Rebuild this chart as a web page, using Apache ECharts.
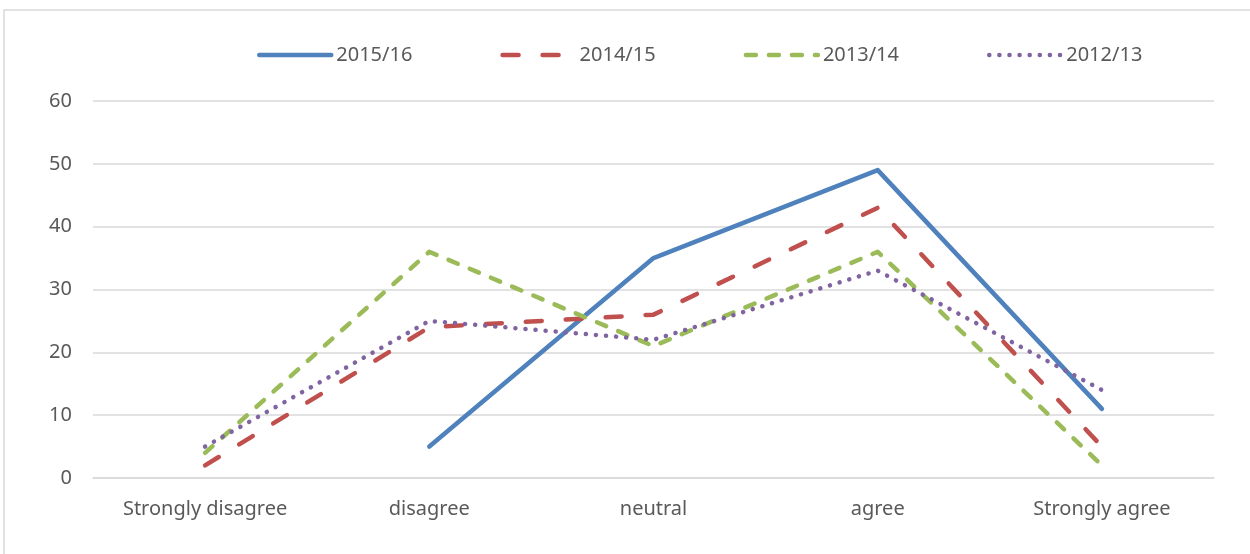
<!DOCTYPE html>
<html>
<head>
<meta charset="utf-8">
<script src="https://cdn.jsdelivr.net/npm/echarts@6/dist/echarts.min.js"></script>
<style>
  html, body { margin: 0; padding: 0; background: #fff; }
  #chart { width: 1250px; height: 554px; }
</style>
</head>
<body>
<div id="chart"></div>
<script>
  // data
  var categories = ['Strongly disagree', 'disagree', 'neutral', 'agree', 'Strongly agree'];
  var y2015 = [null, 5, 35, 49, 11];
  var y2014 = [2, 24, 26, 43, 5];
  var y2013 = [4, 36, 21, 36, 2];
  var y2012 = [5, 25, 22, 33, 14];
  var yTicks = [0, 10, 20, 30, 40, 50, 60];

  var font = '"Noto Sans", "Open Sans", sans-serif';
  var grey = '#595959';

  function line(name, data, color, dash) {
    return {
      name: name,
      type: 'line',
      data: data,
      symbol: 'none',
      connectNulls: false,
      lineStyle: { color: color, width: 4.5, type: dash, cap: 'round', join: 'round' },
      itemStyle: { color: color }
    };
  }

  var myChart = echarts.init(document.getElementById('chart'));
  myChart.setOption({
    animation: false,
    graphic: [{
      type: 'rect',
      shape: { x: 4, y: 10, width: 1300, height: 600 },
      style: { fill: 'none', stroke: '#d9d9d9', lineWidth: 1.5 },
      silent: true
    }],
    legend: {
      top: 40,
      left: 252,
      itemWidth: 72,
      itemHeight: 14,
      itemGap: 88,
      itemStyle: { opacity: 0 },
      lineStyle: { width: 4.5, cap: 'round' },
      textStyle: { fontFamily: font, fontSize: 20, color: grey },
      data: ['2015/16', '2014/15', '2013/14', '2012/13']
    },
    grid: { left: 93, right: 36, top: 101, bottom: 76 },
    xAxis: {
      type: 'category',
      data: categories,
      boundaryGap: true,
      axisTick: { show: false },
      axisLine: { lineStyle: { color: '#d9d9d9', width: 1.5 } },
      axisLabel: { color: grey, fontFamily: font, fontSize: 20, margin: 21 }
    },
    yAxis: {
      type: 'value',
      min: yTicks[0],
      max: yTicks[yTicks.length - 1],
      interval: 10,
      axisLine: { show: false },
      axisTick: { show: false },
      splitLine: { lineStyle: { color: '#d9d9d9', width: 1.5 } },
      axisLabel: { color: grey, fontFamily: font, fontSize: 20, margin: 21 }
    },
    series: [
      line('2015/16', y2015, '#4f81bd', 'solid'),
      line('2014/15', y2014, '#c0504d', [16, 24]),
      line('2013/14', y2013, '#9bbb59', [10, 13]),
      line('2012/13', y2012, '#8064a2', [0.1, 10])
    ]
  });
</script>
</body>
</html>
